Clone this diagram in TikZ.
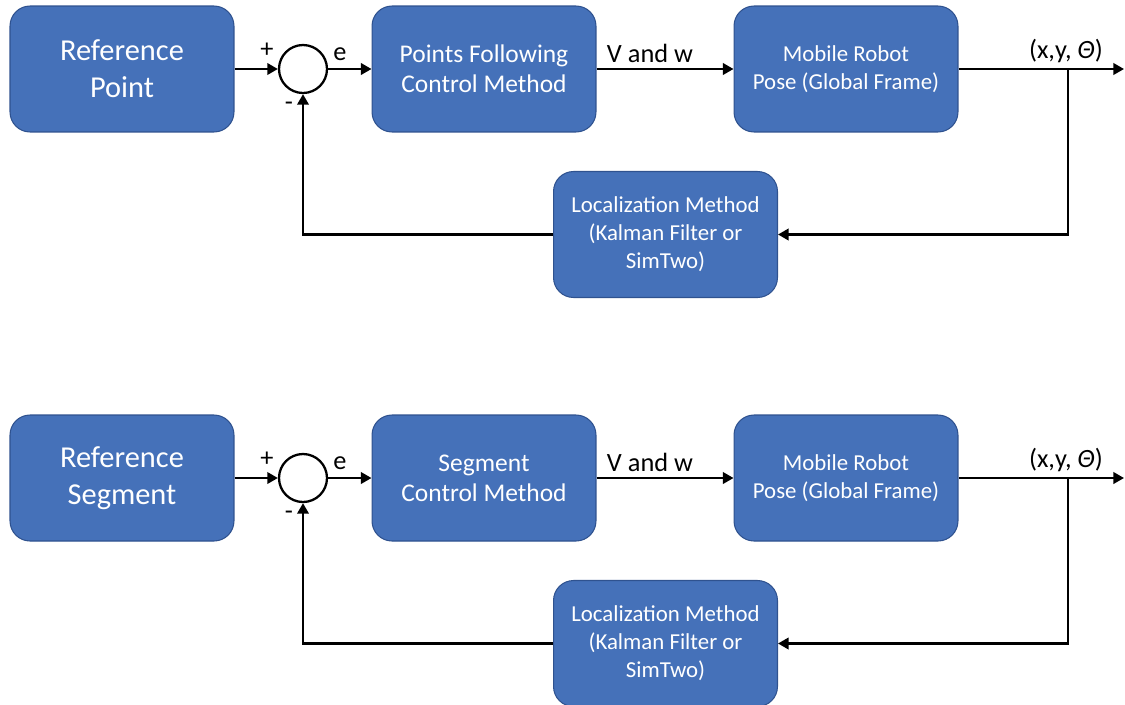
\documentclass[tikz,border=0pt]{standalone}
\usepackage{fontspec}
\setmainfont{Carlito}
\usepackage{xcolor}
\usetikzlibrary{arrows.meta, positioning}
\definecolor{boxblue}{HTML}{4571B9}
\definecolor{boxedge}{HTML}{2F528F}
\tikzset{%
	block/.style={
		rectangle,
		rounded corners=0.4cm,
		draw=boxedge,
		line width=0.6pt,
		fill=boxblue,
		text=white,
		align=center,
		minimum width=4.48cm,
		minimum height=2.52cm,
		inner sep=2pt
	},
	big text/.style={font=\fontsize{17.3}{21.2}\selectfont},
	mid text/.style={font=\fontsize{14.5}{17}\selectfont},
	small text/.style={font=\fontsize{13}{15.9}\selectfont},
	sum/.style={
		circle,
		draw,
		line width=1.3pt,
		minimum size=0.96cm,
		inner sep=0pt
	},
	signal/.style={line width=1.3pt, -{Triangle[length=6pt,width=6.5pt]}},
	tag/.style={font=\fontsize{15}{18}\selectfont, inner sep=0pt},
}

\begin{document}
\begin{tikzpicture}[x=0.02cm, y=-0.02cm]
	\useasboundingbox (0,0) rectangle (1125,704);

	% Point following loop
	\node[block, big text] (ref1) at (122,69) {Reference\\Point};
	\node[sum] (sum1) at (303,69) {};
	\node[block, mid text] (ctrl1) at (484,69) {Points Following\\Control Method};
	\node[block, small text] (robot1) at (846,69) {Mobile Robot\\Pose (Global Frame)};
	\node[block, small text] (loc1) at (665.5,234.5) {Localization Method\\(Kalman Filter or\\SimTwo)};
	\coordinate (tap1) at (1068,69);
	\coordinate (out1) at (1124,69);

	\draw[signal] (ref1) -- (sum1);
	\draw[signal] (sum1) -- (ctrl1);
	\draw[signal] (ctrl1) -- (robot1);
	\draw[signal] (robot1) -- (out1);
	\draw[signal] (tap1) |- (loc1);
	\draw[signal] (loc1) -| (sum1);

	\node[tag] (plus1) at (267,50) {+};
	\node[tag] (minus1) at (289,106) {-};
	\node[tag] (err1) at (340,54) {e};
	\node[tag] (cmd1) at (650,53) {V and w};
	\node[tag] (pose1) at (1066,51) {(x,y, \textit{Θ})};

	% Segment following loop
	\begin{scope}[shift={(0,409)}]
		\node[block, big text] (ref2) at (122,69) {Reference\\Segment};
		\node[sum] (sum2) at (303,69) {};
		\node[block, mid text] (ctrl2) at (484,69) {Segment\\Control Method};
		\node[block, small text] (robot2) at (846,69) {Mobile Robot\\Pose (Global Frame)};
		\node[block, small text] (loc2) at (665.5,234.5) {Localization Method\\(Kalman Filter or\\SimTwo)};
		\coordinate (tap2) at (1068,69);
		\coordinate (out2) at (1124,69);

		\draw[signal] (ref2) -- (sum2);
		\draw[signal] (sum2) -- (ctrl2);
		\draw[signal] (ctrl2) -- (robot2);
		\draw[signal] (robot2) -- (out2);
		\draw[signal] (tap2) |- (loc2);
		\draw[signal] (loc2) -| (sum2);

		\node[tag] (plus2) at (267,50) {+};
		\node[tag] (minus2) at (289,106) {-};
		\node[tag] (err2) at (340,54) {e};
		\node[tag] (cmd2) at (650,53) {V and w};
		\node[tag] (pose2) at (1066,51) {(x,y, \textit{Θ})};
	\end{scope}
\end{tikzpicture}
\end{document}
